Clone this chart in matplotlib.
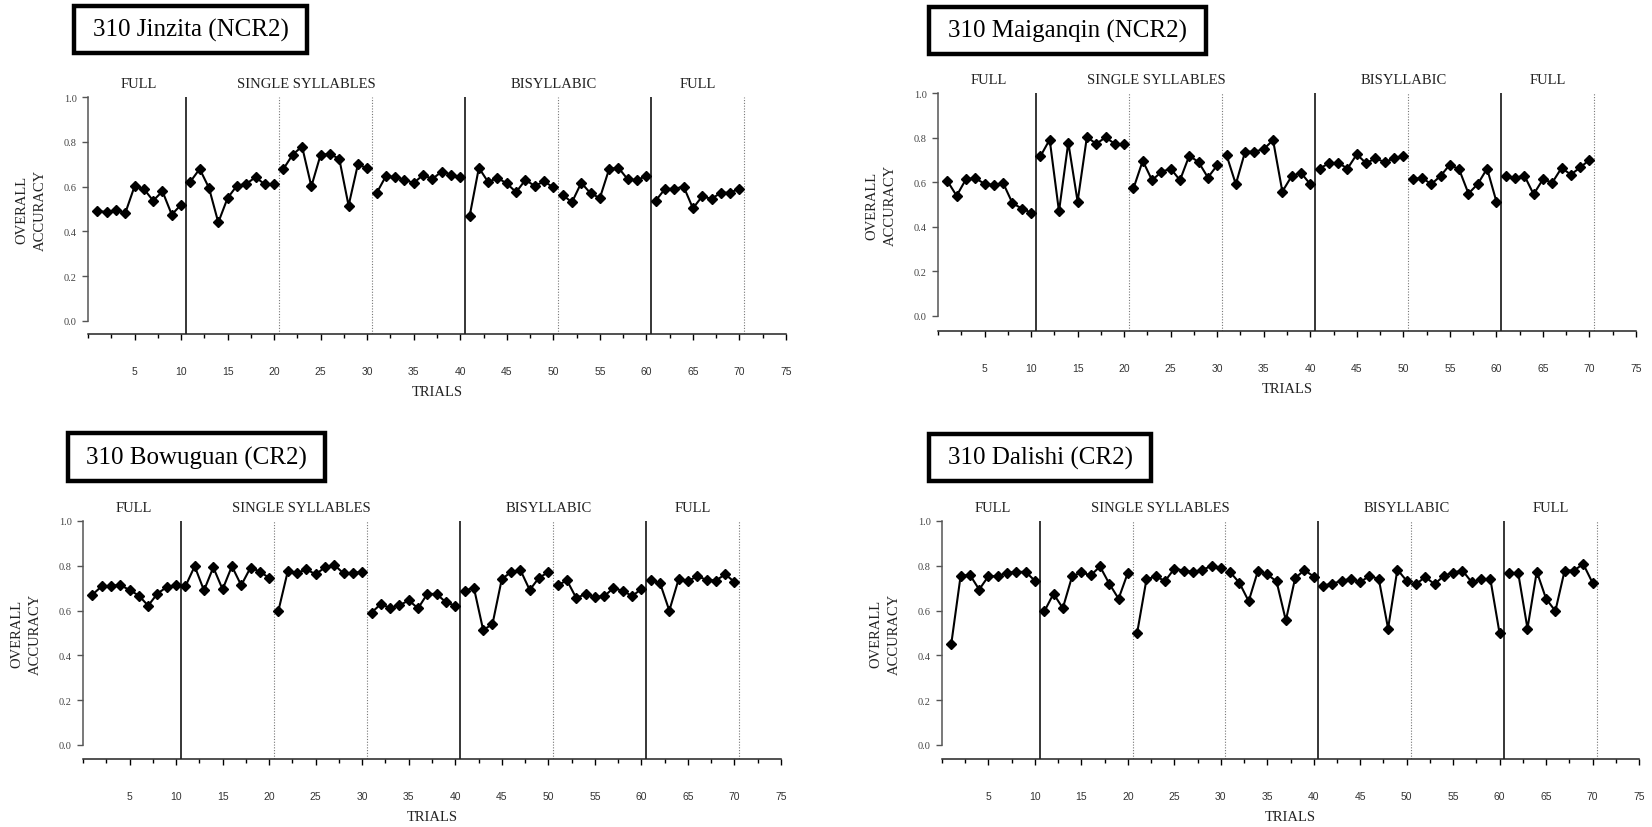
import numpy as np
import matplotlib
matplotlib.use('Agg')
import matplotlib.pyplot as plt
from matplotlib.patches import Rectangle
from matplotlib.ticker import MultipleLocator

matplotlib.rcParams['font.family'] = 'Liberation Serif'

trials = np.arange(1, 71)

jinzita = [0.493, 0.485, 0.496, 0.481, 0.601, 0.590, 0.537, 0.579, 0.475, 0.519,
           0.622, 0.679, 0.594, 0.440, 0.549, 0.604, 0.612, 0.642, 0.610, 0.610,
           0.679, 0.743, 0.779, 0.601, 0.743, 0.745, 0.724, 0.515, 0.699, 0.682,
           0.570, 0.646, 0.642, 0.631, 0.616, 0.652, 0.634, 0.667, 0.654, 0.642,
           0.467, 0.684, 0.620, 0.639, 0.614, 0.575, 0.630, 0.603, 0.623, 0.597,
           0.563, 0.530, 0.617, 0.570, 0.549, 0.679, 0.684, 0.632, 0.629, 0.648,
           0.537, 0.590, 0.590, 0.600, 0.503, 0.557, 0.545, 0.573, 0.573, 0.591]

maiganqin = [0.606, 0.539, 0.613, 0.618, 0.593, 0.587, 0.596, 0.506, 0.482, 0.463,
             0.716, 0.791, 0.469, 0.778, 0.513, 0.803, 0.772, 0.801, 0.772, 0.770,
             0.572, 0.696, 0.609, 0.646, 0.661, 0.609, 0.719, 0.690, 0.621, 0.676,
             0.722, 0.591, 0.737, 0.737, 0.748, 0.789, 0.558, 0.627, 0.642, 0.591,
             0.661, 0.685, 0.687, 0.661, 0.725, 0.685, 0.707, 0.690, 0.707, 0.719,
             0.613, 0.620, 0.591, 0.628, 0.679, 0.657, 0.549, 0.592, 0.661, 0.513,
             0.627, 0.619, 0.630, 0.546, 0.613, 0.598, 0.664, 0.634, 0.666, 0.700]

bowuguan = [0.671, 0.708, 0.711, 0.714, 0.692, 0.667, 0.622, 0.676, 0.705, 0.714,
            0.708, 0.798, 0.690, 0.793, 0.695, 0.798, 0.713, 0.792, 0.774, 0.746,
            0.600, 0.775, 0.768, 0.784, 0.762, 0.793, 0.804, 0.766, 0.769, 0.772,
            0.591, 0.629, 0.612, 0.623, 0.646, 0.610, 0.675, 0.674, 0.637, 0.622,
            0.689, 0.702, 0.513, 0.540, 0.741, 0.772, 0.781, 0.692, 0.747, 0.771,
            0.713, 0.735, 0.656, 0.674, 0.661, 0.664, 0.701, 0.688, 0.665, 0.696,
            0.735, 0.723, 0.600, 0.740, 0.732, 0.753, 0.738, 0.734, 0.762, 0.728]

dalishi = [0.452, 0.754, 0.760, 0.694, 0.754, 0.753, 0.769, 0.773, 0.773, 0.733,
           0.596, 0.675, 0.611, 0.753, 0.771, 0.757, 0.797, 0.720, 0.653, 0.769,
           0.501, 0.739, 0.753, 0.732, 0.787, 0.779, 0.772, 0.782, 0.799, 0.790,
           0.772, 0.724, 0.642, 0.778, 0.762, 0.730, 0.556, 0.745, 0.781, 0.752,
           0.712, 0.720, 0.733, 0.742, 0.727, 0.755, 0.741, 0.520, 0.783, 0.733,
           0.718, 0.750, 0.718, 0.755, 0.770, 0.779, 0.727, 0.739, 0.742, 0.498,
           0.768, 0.768, 0.520, 0.774, 0.653, 0.598, 0.779, 0.779, 0.808, 0.724]

titles = ['310 Jinzita (NCR2)', '310 Maiganqin (NCR2)',
          '310 Bowuguan (CR2)', '310 Dalishi (CR2)']
series = [jinzita, maiganqin, bowuguan, dalishi]

section_names = ['FULL', 'SINGLE SYLLABLES', 'BISYLLABIC', 'FULL']
section_centers = [5.5, 23.5, 50.0, 65.5]
solid_breaks = [10.5, 40.5, 60.5]
dotted_breaks = [20.5, 30.5, 50.5, 70.5]

W, H = 1652, 828
# pixel boxes: axes left/right, top (y=1.0), bottom (x axis line), y of 0.0,
# and the title frame (left, right, top, bottom)
layout = [
    dict(l=88, r=786, t=98, b=335, y0=322, box=(74, 307, 7, 54)),
    dict(l=938, r=1636, t=94, b=332, y0=317, box=(929, 1206, 8, 55)),
    dict(l=83, r=781, t=522, b=760, y0=746, box=(68, 325, 434, 482)),
    dict(l=942, r=1639, t=522, b=760, y0=746, box=(929, 1151, 435, 482)),
]

fig = plt.figure(figsize=(16.52, 8.28), dpi=100)

for title, vals, p in zip(titles, series, layout):
    ax = fig.add_axes([p['l'] / W, 1 - p['b'] / H,
                       (p['r'] - p['l']) / W, (p['b'] - p['t']) / H])
    ymin = -(p['b'] - p['y0']) / (p['y0'] - p['t'])
    ax.set_xlim(0, 75)
    ax.set_ylim(ymin, 1.0)

    vals = np.array(vals)
    for k in range(7):
        seg = slice(10 * k, 10 * k + 10)
        ax.plot(trials[seg], vals[seg], color='black', lw=1.5,
                marker='D', ms=5, mfc='black', mec='black', zorder=3)

    for x in solid_breaks:
        ax.axvline(x, ymin=0, ymax=1, color='black', lw=1.1)
    for x in dotted_breaks:
        ax.axvline(x, ymin=0, ymax=1, color='#777777', lw=0.8, ls=(0, (1, 1.5)))

    for sp in ['top', 'right']:
        ax.spines[sp].set_visible(False)
    ax.spines['left'].set_bounds(0, 1.0)
    ax.spines['left'].set_color('#555555')
    ax.spines['left'].set_linewidth(1.1)
    ax.spines['bottom'].set_color('#222222')
    ax.spines['bottom'].set_linewidth(1.1)

    ax.set_yticks([0, 0.2, 0.4, 0.6, 0.8, 1.0])
    ax.set_yticklabels(['0.0', '0.2', '0.4', '0.6', '0.8', '1.0'],
                       fontsize=7.5, color='#444444')
    ax.tick_params(axis='y', length=4, width=1, color='#555555', pad=4)

    ax.set_xticks(range(5, 76, 5))
    ax.set_xticklabels([str(v) for v in range(5, 76, 5)], fontsize=7.5,
                       family='Liberation Sans', color='#333333')
    ax.xaxis.set_minor_locator(MultipleLocator(2.5))
    ax.tick_params(axis='x', which='major', length=4, width=1, pad=19)
    ax.tick_params(axis='x', which='minor', length=3, width=1)

    trans = ax.get_xaxis_transform()
    for name, cx in zip(section_names, section_centers):
        ax.text(cx, 1.055, name, transform=trans, ha='center', va='center',
                fontsize=10.5, color='#222222')

    cx = (p['l'] + p['r']) / 2
    fig.text(cx / W, 1 - (p['b'] + 58) / H, 'TRIALS', ha='center', va='center',
             fontsize=10.5, color='#222222')
    fig.text((p['l'] - 57) / W, 1 - ((p['t'] + p['y0']) / 2) / H,
             'OVERALL\nACCURACY', rotation=90, ha='center', va='center',
             multialignment='center', fontsize=10.5, color='#222222',
             linespacing=1.6)

    # framed panel title
    bl, br, bt, bb = p['box']
    fig.patches.append(Rectangle((bl / W, 1 - bb / H), (br - bl) / W, (bb - bt) / H,
                                 transform=fig.transFigure, fc='white',
                                 ec='black', lw=3.2, zorder=1))
    fig.text((bl + br) / 2 / W, 1 - (bt + bb) / 2 / H, title, ha='center',
             va='center', fontsize=18, color='black', zorder=2)

fig.savefig('out.png', dpi=100)
